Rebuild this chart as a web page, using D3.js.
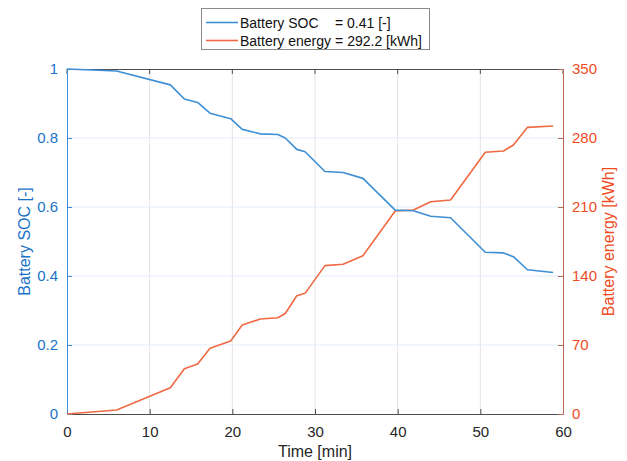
<!DOCTYPE html>
<html>
<head>
<meta charset="utf-8">
<script src="https://cdn.jsdelivr.net/npm/d3@7"></script>
<style>
  html, body { margin: 0; padding: 0; background: #fff; }
  svg { display: block; font-family: "Liberation Sans", Arial, Helvetica, sans-serif; }
</style>
</head>
<body>
<svg id="chart" width="627" height="461"></svg>
<script>
// Time stamps of the charging log [min]
const timeMin = [0, 6, 12.5, 14.2, 15.8, 17.3, 19.8, 21.2, 23.4, 25.5, 26.4, 27.8, 28.8,
                 31.2, 33.4, 35.8, 39.7, 41.9, 44.0, 46.4, 50.6, 52.8, 54.0, 55.7, 58.8];
// Battery state of charge [-]
const socValues = [1.0, 0.994, 0.954, 0.913, 0.903, 0.872, 0.856, 0.825, 0.812, 0.810, 0.800, 0.767, 0.760,
                   0.703, 0.700, 0.683, 0.591, 0.589, 0.573, 0.569, 0.469, 0.467, 0.456, 0.418, 0.41];
// Battery energy delivered [kWh]
const energyValues = [0, 4.1, 26.7, 46, 50.7, 66.6, 74, 90.3, 96.4, 97.7, 102, 120, 122.4,
                      150.5, 151.9, 160.6, 206, 207, 215.4, 217.1, 265.5, 266.8, 272.9, 290.8, 292.2];

const xTicks = [0, 10, 20, 30, 40, 50, 60];
const socTicks = [0, 0.2, 0.4, 0.6, 0.8, 1];
const energyTicks = [0, 70, 140, 210, 280, 350];
const legendLabels = ["Battery SOC", "Battery energy"];

const blue = "#3e8fd5", orange = "#ef6a42";
const blueText = "#1a73c8", orangeText = "#ee4b1e";
const frameColor = "#4d4d4d", rightAxisColor = "#b56a56";

const svg = d3.select("#chart");
const plotL = 67, plotR = 563, plotT = 69, plotB = 414;

const x = d3.scaleLinear().domain([0, 60]).range([plotL, plotR]);
const ySoc = d3.scaleLinear().domain([0, 1]).range([plotB, plotT]);
const yEnergy = d3.scaleLinear().domain([0, 350]).range([plotB, plotT]);

// grid
const grid = svg.append("g");
grid.selectAll(".vg").data(xTicks.slice(1, -1)).join("line")
  .attr("x1", d => x(d)).attr("x2", d => x(d))
  .attr("y1", plotT).attr("y2", plotB)
  .attr("stroke", "#e4e4e4").attr("stroke-width", 1);
grid.selectAll(".hg").data(socTicks.slice(1, -1)).join("line")
  .attr("x1", plotL).attr("x2", plotR)
  .attr("y1", d => ySoc(d)).attr("y2", d => ySoc(d))
  .attr("stroke", "#e2edf8").attr("stroke-width", 1);

// top frame line with inward ticks
svg.append("line").attr("x1", plotL).attr("x2", plotR).attr("y1", plotT + 0.5).attr("y2", plotT + 0.5)
  .attr("stroke", frameColor);
svg.selectAll(".tt").data(xTicks).join("line")
  .attr("x1", d => x(d)).attr("x2", d => x(d)).attr("y1", plotT).attr("y2", plotT + 5)
  .attr("stroke", frameColor);

// bottom axis
const xAxis = d3.axisBottom(x).tickValues(xTicks).tickSizeInner(-5).tickSizeOuter(0).tickPadding(12);
const gx = svg.append("g").attr("transform", `translate(0,${plotB})`).call(xAxis);
gx.select(".domain").attr("stroke", frameColor);
gx.selectAll(".tick line").attr("stroke", frameColor);
gx.selectAll(".tick text").attr("fill", "#262626").attr("font-size", 15)
  .attr("font-family", "Liberation Sans, Arial, sans-serif");

// left axis
const yAxisL = d3.axisLeft(ySoc).tickValues(socTicks).tickFormat(d3.format("~g"))
  .tickSizeInner(-5).tickSizeOuter(0).tickPadding(9);
const gl = svg.append("g").attr("transform", `translate(${plotL},0)`).call(yAxisL);
gl.select(".domain").attr("stroke", blue);
gl.selectAll(".tick line").attr("stroke", blue);
gl.selectAll(".tick text").attr("fill", blueText).attr("font-size", 15)
  .attr("font-family", "Liberation Sans, Arial, sans-serif");

// right axis
const yAxisR = d3.axisRight(yEnergy).tickValues(energyTicks)
  .tickSizeInner(-5).tickSizeOuter(0).tickPadding(9);
const gr = svg.append("g").attr("transform", `translate(${plotR},0)`).call(yAxisR);
gr.select(".domain").attr("stroke", rightAxisColor);
gr.selectAll(".tick line").attr("stroke", rightAxisColor);
gr.selectAll(".tick text").attr("fill", orangeText).attr("font-size", 15)
  .attr("font-family", "Liberation Sans, Arial, sans-serif");

// axis titles
svg.append("text").attr("x", (plotL + plotR) / 2).attr("y", 457)
  .attr("text-anchor", "middle").attr("font-size", 16).attr("fill", "#262626").text("Time [min]");
svg.append("text").attr("transform", `translate(30,${(plotT + plotB) / 2}) rotate(-90)`)
  .attr("text-anchor", "middle").attr("font-size", 16).attr("fill", blueText).text("Battery SOC [-]");
svg.append("text").attr("transform", `translate(614,${(plotT + plotB) / 2}) rotate(-90)`)
  .attr("text-anchor", "middle").attr("font-size", 16).attr("fill", orangeText).text("Battery energy [kWh]");

// series
const socLine = d3.line().x((d, i) => x(timeMin[i])).y(d => ySoc(d));
const energyLine = d3.line().x((d, i) => x(timeMin[i])).y(d => yEnergy(d));
svg.append("path").attr("d", energyLine(energyValues)).attr("fill", "none")
  .attr("stroke", orange).attr("stroke-width", 1.6).attr("stroke-linejoin", "round");
svg.append("path").attr("d", socLine(socValues)).attr("fill", "none")
  .attr("stroke", blue).attr("stroke-width", 1.6).attr("stroke-linejoin", "round");

// legend
const lg = svg.append("g");
lg.append("rect").attr("x", 201.5).attr("y", 8.5).attr("width", 228).attr("height", 41)
  .attr("fill", "#fff").attr("stroke", "#8a8a8a");
const lastSoc = socValues[socValues.length - 1];
const lastEnergy = energyValues[energyValues.length - 1];
const rows = [
  { color: blue, name: legendLabels[0], val: `= ${d3.format(".2f")(lastSoc)} [-]`, valX: 335 },
  { color: orange, name: legendLabels[1], val: `= ${d3.format(".1f")(lastEnergy)} [kWh]`, valX: null }
];
rows.forEach((r, i) => {
  const cy = 22.5 + i * 18;
  lg.append("line").attr("x1", 206).attr("x2", 238).attr("y1", cy).attr("y2", cy)
    .attr("stroke", r.color).attr("stroke-width", 1.6);
  const t = lg.append("text").attr("x", 240).attr("y", cy + 5).attr("font-size", 14).attr("fill", "#111");
  t.append("tspan").text(r.name);
  if (r.valX !== null) t.append("tspan").attr("x", r.valX).text(r.val);
  else t.append("tspan").attr("dx", 4).text(r.val);
});
</script>
</body>
</html>
